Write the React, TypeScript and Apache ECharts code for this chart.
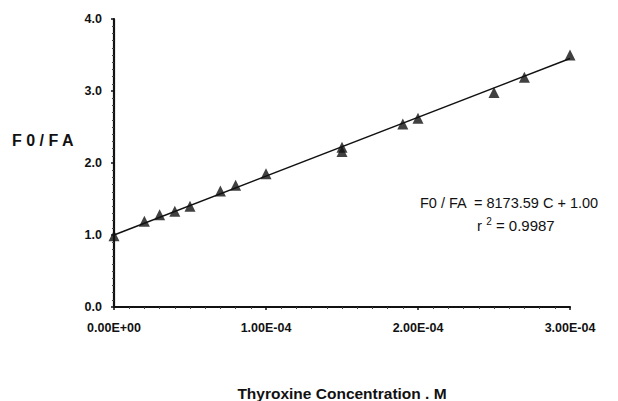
import React, { useEffect, useRef } from "react";
import * as echarts from "echarts";

const concentrations = [0, 2e-5, 3e-5, 4e-5, 5e-5, 7e-5, 8e-5, 1e-4, 1.5e-4, 1.5e-4, 1.9e-4, 2e-4, 2.5e-4, 2.7e-4, 3e-4];
const ratios = [0.99, 1.19, 1.28, 1.33, 1.4, 1.61, 1.69, 1.85, 2.22, 2.16, 2.54, 2.62, 2.98, 3.19, 3.5];
const slope = 8173.59;
const intercept = 1.0;
const fitX = [0, 3e-4];
const xTickLabels: Record<string, string> = { "0": "0.00E+00", "0.0001": "1.00E-04", "0.0002": "2.00E-04", "0.0003": "3.00E-04" };
const equationText = "F0 / FA  = 8173.59 C + 1.00";
const r2Text = "0.9987";

export default function App() {
  const ref = useRef<HTMLDivElement>(null);
  useEffect(() => {
    if (!ref.current) return;
    const chart = echarts.init(ref.current, null, { renderer: "svg" });
    const pts = concentrations.map((c, i) => [c, ratios[i]]);
    const fit = fitX.map((x) => [x, slope * x + intercept]);
    chart.setOption({
      animation: false,
      backgroundColor: "#fff",
      grid: { left: 114, right: 48, top: 19, bottom: 94, containLabel: false, outerBoundsMode: "none" },
      xAxis: {
        type: "value",
        min: 0,
        max: 3e-4,
        interval: 1e-4,
        name: "Thyroxine Concentration . M",
        nameLocation: "middle",
        nameGap: 78,
        nameTextStyle: { fontFamily: "Liberation Sans", fontWeight: "bold", fontSize: 15.5, color: "#111" },
        axisLine: { lineStyle: { color: "#111", width: 2.2 } },
        axisTick: { show: true, length: 3, inside: false, lineStyle: { color: "#111", width: 1.5 } },
        minorTick: { show: true, splitNumber: 10, length: 2, lineStyle: { color: "#444" } },
        splitLine: { show: false },
        axisLabel: {
          margin: 14,
          fontFamily: "Liberation Sans",
          fontWeight: "bold",
          fontSize: 12.5,
          color: "#111",
          formatter: (v: number) => xTickLabels[String(Math.round(v * 1e4) / 1e4)] ?? "",
        },
      },
      yAxis: {
        type: "value",
        min: 0,
        max: 4,
        interval: 1,
        axisLine: { show: true, lineStyle: { color: "#111", width: 2.2 } },
        axisTick: { show: true, length: 3, lineStyle: { color: "#111", width: 1.5 } },
        minorTick: { show: true, splitNumber: 10, length: 2, lineStyle: { color: "#444" } },
        splitLine: { show: false },
        axisLabel: {
          margin: 12,
          fontFamily: "Liberation Sans",
          fontWeight: "bold",
          fontSize: 12.5,
          color: "#111",
          formatter: (v: number) => v.toFixed(1),
        },
      },
      graphic: [
        {
          type: "text",
          left: 12,
          top: 132,
          style: { text: "F 0 / F A", font: "bold 16px 'Liberation Sans'", fill: "#111" },
        },
        {
          type: "text",
          left: 420,
          top: 195,
          style: { text: equationText, font: "14.5px 'Liberation Sans'", fill: "#111" },
        },
        {
          type: "text",
          left: 477,
          top: 216,
          style: {
            text: "r {sup|2} = " + r2Text,
            font: "15px 'Liberation Sans'",
            fill: "#111",
            rich: { sup: { fontSize: 10, verticalAlign: "top", padding: [0, 0, 8, 0], fontFamily: "Liberation Sans" } },
          },
        },
      ],
      series: [
        {
          type: "line",
          data: fit,
          symbol: "none",
          lineStyle: { color: "#111", width: 1.5 },
          silent: true,
        },
        {
          type: "scatter",
          data: pts,
          symbol: "triangle",
          symbolSize: 11,
          itemStyle: { color: "#111" },
        },
      ],
    });
    return () => chart.dispose();
  }, []);
  return <div ref={ref} style={{ position: "absolute", left: 0, top: 0, width: 618, height: 401 }} />;
}
